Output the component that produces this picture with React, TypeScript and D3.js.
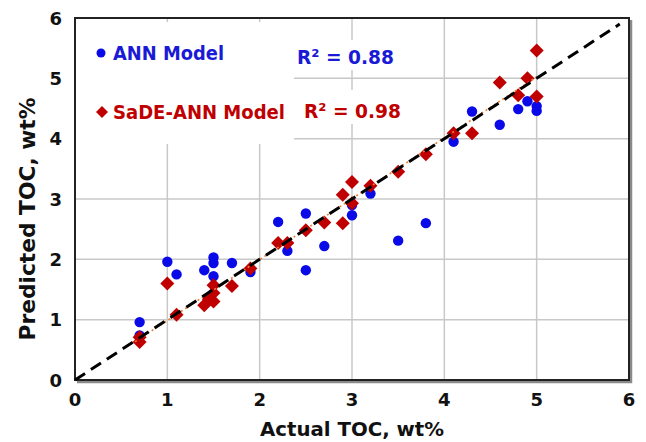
import React from "react";
import * as d3 from "d3";

const annX = [0.7, 0.7, 1.0, 1.1, 1.4, 1.5, 1.5, 1.5, 1.7, 1.9, 2.2, 2.3, 2.5, 2.5, 2.7, 3.0, 3.0, 3.2, 3.5, 3.8, 4.1, 4.3, 4.6, 4.8, 4.9, 5.0, 5.0];
const annY = [0.96, 0.74, 1.96, 1.75, 1.82, 2.03, 1.94, 1.72, 1.94, 1.79, 2.62, 2.14, 2.76, 1.82, 2.22, 2.73, 2.9, 3.09, 2.31, 2.6, 3.95, 4.45, 4.23, 4.49, 4.62, 4.54, 4.46];
const sadeX = [0.7, 0.7, 1.0, 1.1, 1.4, 1.45, 1.5, 1.5, 1.5, 1.7, 1.9, 2.2, 2.3, 2.5, 2.7, 2.9, 2.9, 3.0, 3.0, 3.2, 3.5, 3.8, 4.1, 4.3, 4.6, 4.8, 4.9, 5.0, 5.0];
const sadeY = [0.71, 0.63, 1.6, 1.08, 1.24, 1.34, 1.57, 1.44, 1.3, 1.56, 1.85, 2.27, 2.27, 2.48, 2.61, 2.6, 3.07, 2.93, 3.28, 3.22, 3.45, 3.74, 4.09, 4.09, 4.93, 4.72, 5.0, 4.7, 5.46];
const xTicks = [0, 1, 2, 3, 4, 5, 6];
const yTicks = [0, 1, 2, 3, 4, 5, 6];
const legendLabels = ["ANN Model", "SaDE-ANN Model"];
const r2Labels = ["R² = 0.88", "R² = 0.98"];

const W = 646, H = 442;
const left = 75, right = 629, top = 18, bottom = 380;
const BLUE = "#0a0ae8";
const BLUE_T = "#1a1ad6";
const RED = "#c00000";
const FONT = "'DejaVu Sans', Verdana, sans-serif";

export default function App() {
  const x = d3.scaleLinear().domain([0, 6]).range([left, right]);
  const y = d3.scaleLinear().domain([0, 6]).range([bottom, top]);

  // least-squares trendline of SaDE-ANN points
  const n = sadeX.length;
  const mx = d3.mean(sadeX)!, my = d3.mean(sadeY)!;
  let sxy = 0, sxx = 0;
  for (let i = 0; i < n; i++) { sxy += (sadeX[i] - mx) * (sadeY[i] - my); sxx += (sadeX[i] - mx) ** 2; }
  const slope = sxy / sxx, icpt = my - slope * mx;
  const x0 = d3.min(sadeX)!, x1 = d3.max(sadeX)!;

  const diamond = (cx: number, cy: number, s = 7) =>
    `M${cx},${cy - s}L${cx + s},${cy}L${cx},${cy + s}L${cx - s},${cy}Z`;

  return (
    <svg width={W} height={H} style={{ position: "absolute", left: 0, top: 0, background: "#fff" }} fontFamily={FONT}>
      <rect x={0} y={0} width={W} height={H} fill="#fff" />
      {/* grid */}
      {xTicks.slice(1, -1).map((t) => (
        <line key={"gx" + t} x1={x(t)} x2={x(t)} y1={top} y2={bottom} stroke="#c8c8c8" strokeWidth={1.5} />
      ))}
      {yTicks.slice(1, -1).map((t) => (
        <line key={"gy" + t} x1={left} x2={right} y1={y(t)} y2={y(t)} stroke="#c8c8c8" strokeWidth={1.5} />
      ))}
      {/* legend backgrounds */}
      <rect x={left + 1} y={22} width={218} height={122} fill="#fff" />
      <rect x={292} y={40} width={106} height={30} fill="#fff" />
      <rect x={299} y={90} width={106} height={34} fill="#fff" />

      {/* frame with shadow */}
      <path d={`M${left + 2},${bottom + 2}H${right + 2}V${top + 2}`} fill="none" stroke="#8a8a8a" strokeWidth={2.5} />
      <rect x={left} y={top} width={right - left} height={bottom - top} fill="none" stroke="#222" strokeWidth={2} />

      {/* points ANN */}
      {annX.map((v, i) => (
        <circle key={"a" + i} cx={x(v)} cy={y(annY[i])} r={5.2} fill={BLUE} />
      ))}
      {/* points SaDE */}
      {sadeX.map((v, i) => (
        <path key={"s" + i} d={diamond(x(v), y(sadeY[i]))} fill={RED} />
      ))}

      {/* trendline */}
      <line x1={x(x0 - 0.05)} y1={y(slope * (x0 - 0.05) + icpt)} x2={x(x1)} y2={y(slope * x1 + icpt)}
        stroke="#ed7d31" strokeWidth={1.6} strokeDasharray="2,3" />
      {/* 1:1 line */}
      <line x1={x(0)} y1={y(0)} x2={x(5.9)} y2={y(5.9)} stroke="#000" strokeWidth={3} strokeDasharray="12,7" />

      {/* legend */}
      <circle cx={101} cy={53} r={4.5} fill={BLUE} />
      <text x={113} y={60} fontSize={20} fontWeight="bold" fill={BLUE_T} textLength={111} lengthAdjust="spacingAndGlyphs">{legendLabels[0]}</text>
      <path d={diamond(102, 112, 6)} fill={RED} />
      <text x={113} y={119} fontSize={20} fontWeight="bold" fill={RED} textLength={172} lengthAdjust="spacingAndGlyphs">{legendLabels[1]}</text>
      <text x={297} y={64} fontSize={20} fontWeight="bold" fill={BLUE_T} textLength={97} lengthAdjust="spacingAndGlyphs">{r2Labels[0]}</text>
      <text x={304} y={118} fontSize={20} fontWeight="bold" fill={RED} textLength={97} lengthAdjust="spacingAndGlyphs">{r2Labels[1]}</text>

      {/* ticks */}
      {xTicks.map((t) => (
        <text key={"tx" + t} x={x(t)} y={406} textAnchor="middle" fontSize={18} fontWeight="bold" fill="#111">{t}</text>
      ))}
      {yTicks.map((t) => (
        <text key={"ty" + t} x={62} y={y(t) + 6.5} textAnchor="end" fontSize={18} fontWeight="bold" fill="#111">{t}</text>
      ))}

      {/* axis titles */}
      <text x={352} y={436} textAnchor="middle" fontSize={19} fontWeight="bold" fill="#111" textLength={184} lengthAdjust="spacingAndGlyphs">Actual TOC, wt%</text>
      <text transform="translate(35,219) rotate(-90)" textAnchor="middle" fontSize={22} fontWeight="bold" fill="#111" textLength={243} lengthAdjust="spacingAndGlyphs">Predicted TOC, wt%</text>
    </svg>
  );
}
